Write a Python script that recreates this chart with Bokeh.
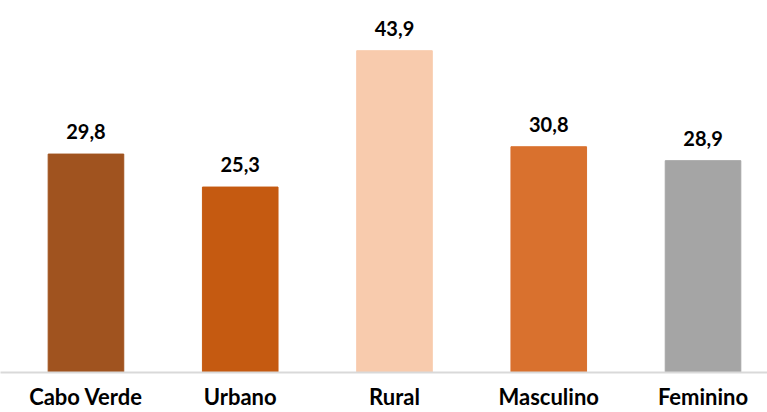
from bokeh.plotting import figure
from bokeh.models import ColumnDataSource, FixedTicker, Range1d
from bokeh.embed import file_html
from bokeh.resources import INLINE
from bokeh.core.properties import value

categories = ["Cabo Verde", "Urbano", "Rural", "Masculino", "Feminino"]
values = [29.8, 25.3, 43.9, 30.8, 28.9]
colors = ["#A0531F", "#C55A11", "#F8CBAD", "#D9712E", "#A5A5A5"]

xs = list(range(len(categories)))
labels = [f"{v:.1f}".replace(".", ",") for v in values]
src = ColumnDataSource(dict(x=xs, top=values, color=colors, label=labels))

p = figure(width=767, height=412, output_backend="svg", toolbar_location=None,
           x_range=Range1d(-0.554, 4.418), y_range=Range1d(0, 50.75),
           min_border_left=0, min_border_right=0, min_border_top=0, min_border_bottom=40)
p.vbar(x="x", top="top", width=0.49, color="color", source=src)
p.text(x="x", y="top", text="label", source=src, text_align="center",
       text_baseline="bottom", y_offset=-15, text_font=value("Lato"),
       text_font_style="bold", text_font_size="20px", text_color="#000000")

p.yaxis.visible = False
p.grid.visible = False
p.outline_line_color = None
p.xaxis.ticker = FixedTicker(ticks=xs)
p.xaxis.major_label_overrides = {i: c for i, c in enumerate(categories)}
p.xaxis.major_tick_line_color = None
p.xaxis.minor_tick_line_color = None
p.xaxis.axis_line_color = "#D9D9D9"
p.xaxis.axis_line_width = 2
p.xaxis.major_label_text_font = "Lato"
p.xaxis.major_label_text_font_style = "bold"
p.xaxis.major_label_text_font_size = "22px"
p.xaxis.major_label_text_color = "#000000"
p.xaxis.major_label_standoff = 4

open("out.html", "w").write(file_html(p, INLINE))
